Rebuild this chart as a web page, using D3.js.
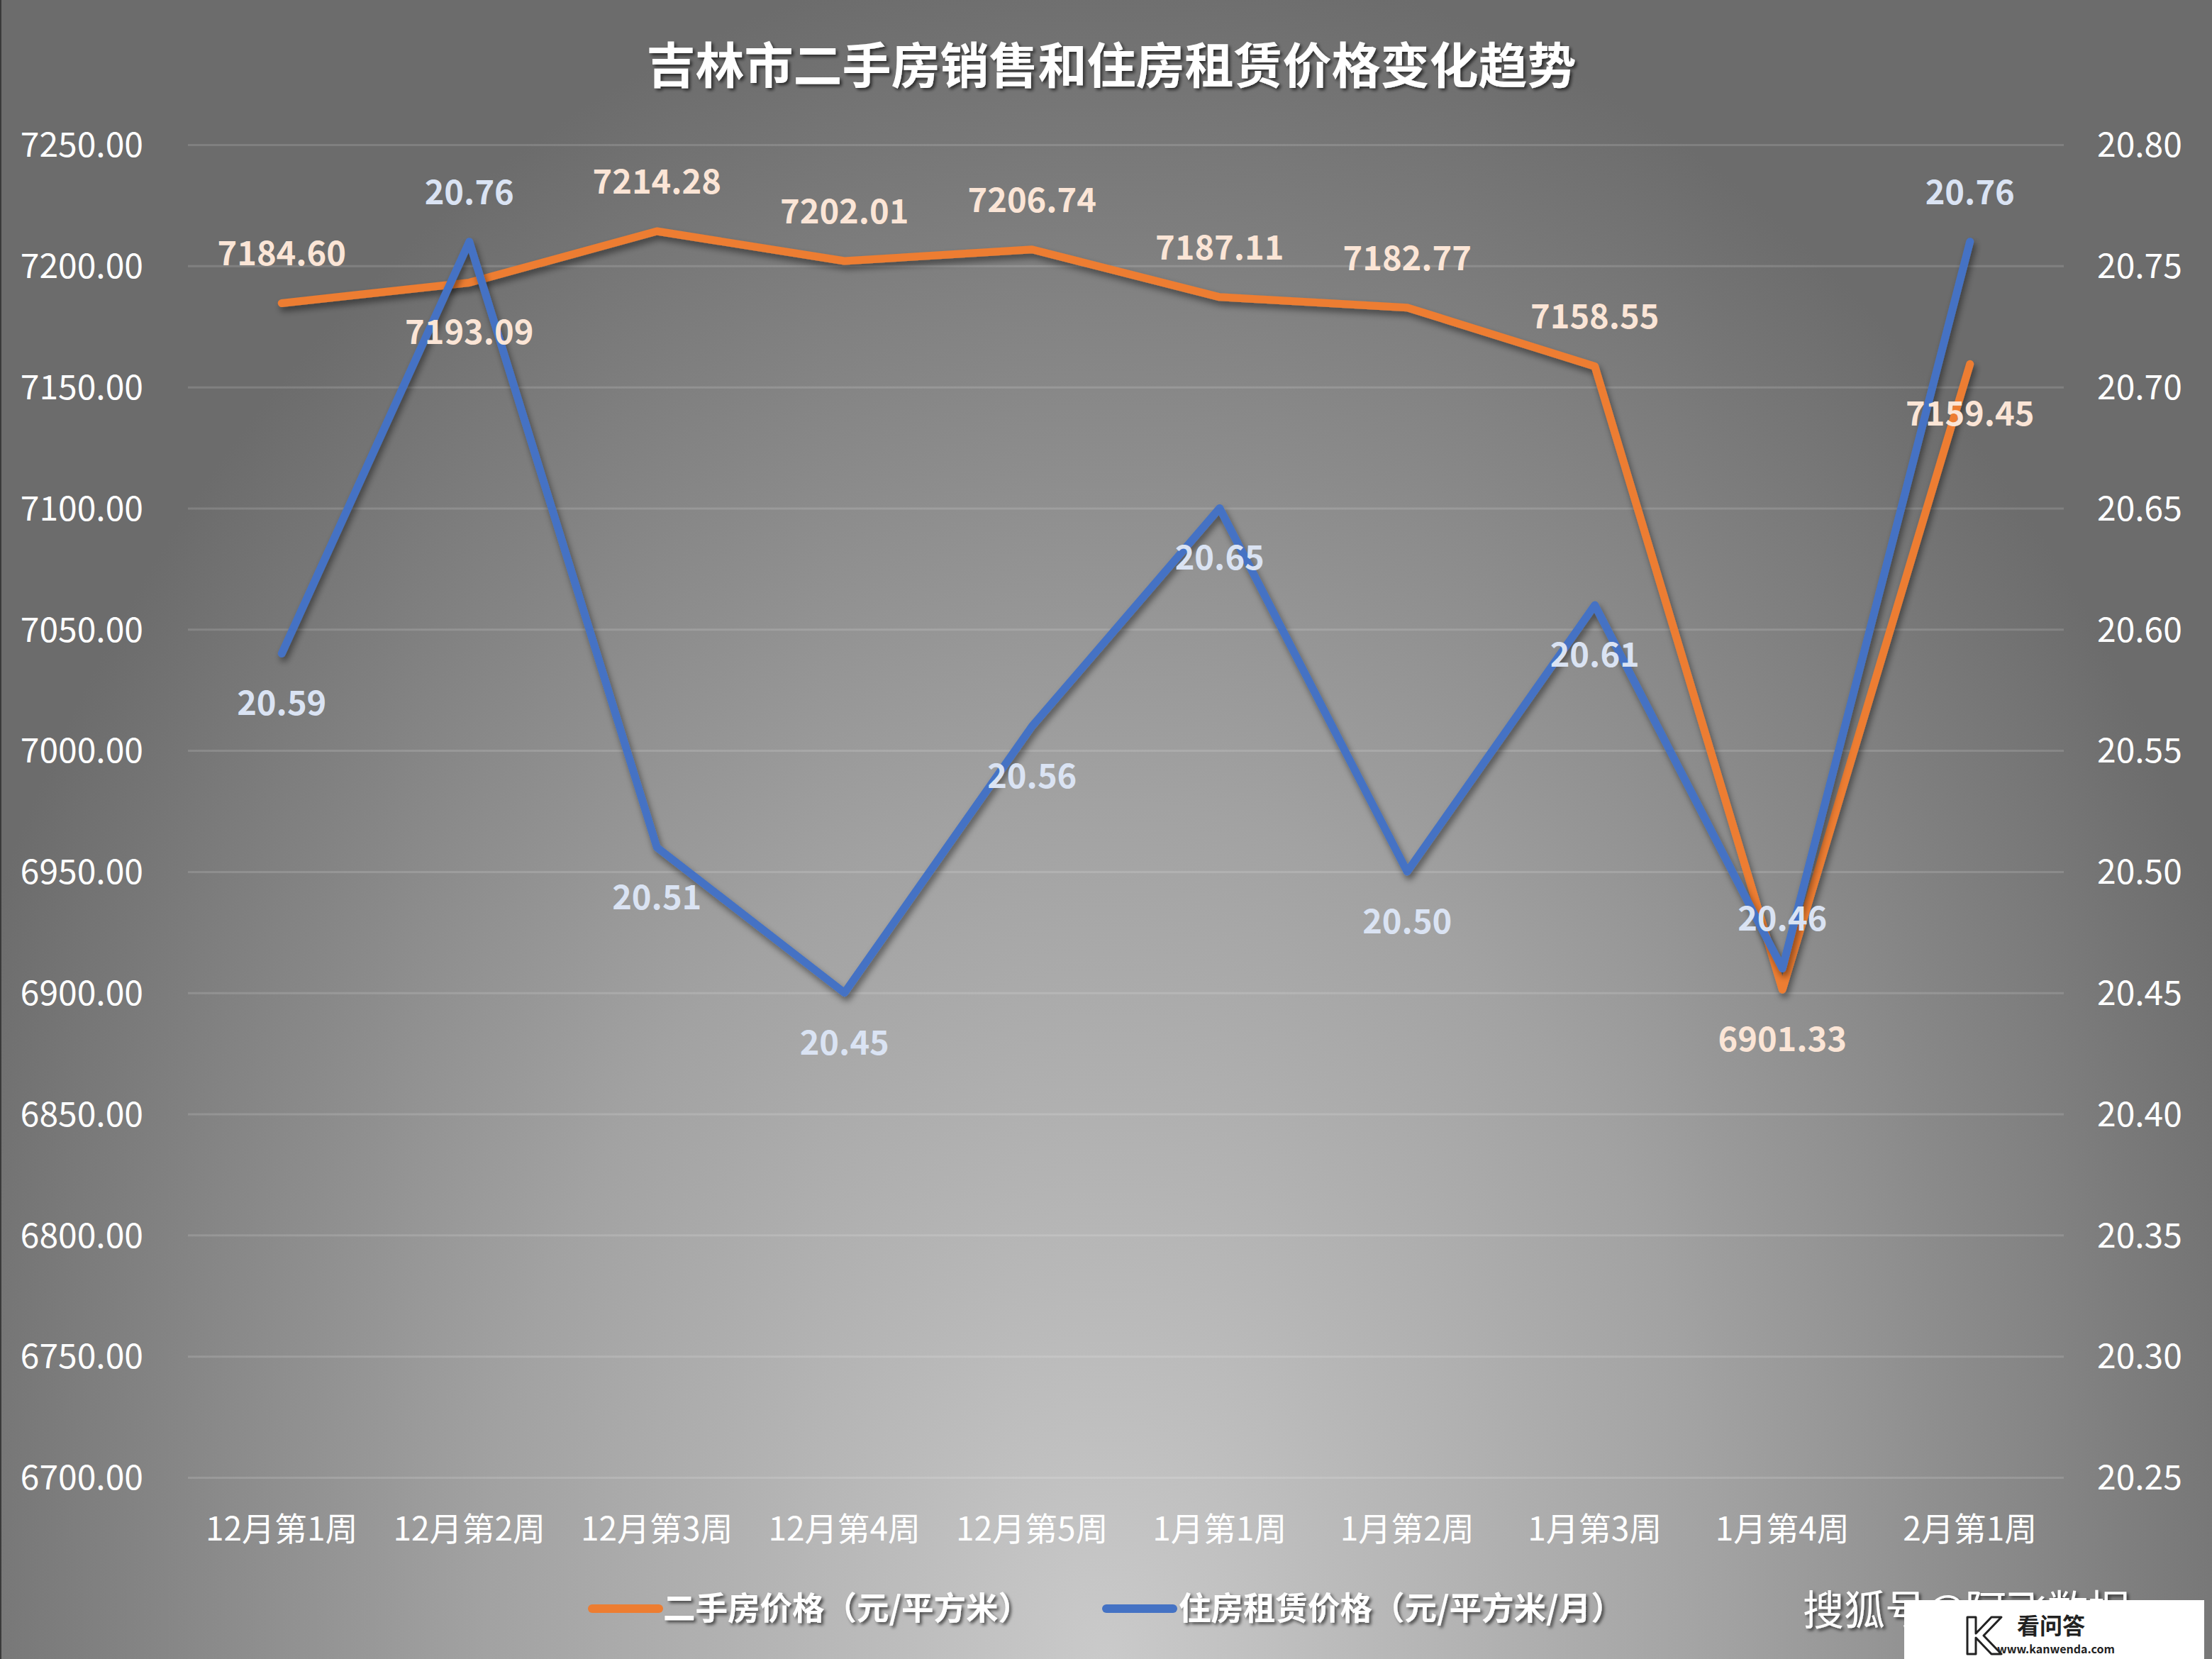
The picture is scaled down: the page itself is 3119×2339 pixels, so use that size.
<!DOCTYPE html>
<html>
<head>
<meta charset="utf-8">
<script src="https://cdn.jsdelivr.net/npm/d3@7/dist/d3.min.js"></script>
<style>
  html, body { margin: 0; padding: 0; background: #888; }
  svg { display: block; }
  text { font-family: "Noto Sans CJK SC", "Noto Sans", sans-serif; }
</style>
</head>
<body>
<svg id="chart" width="3119" height="2339"></svg>
<script>
// ---------------- data ----------------
const title = "吉林市二手房销售和住房租赁价格变化趋势";
const categories = ["12月第1周","12月第2周","12月第3周","12月第4周","12月第5周","1月第1周","1月第2周","1月第3周","1月第4周","2月第1周"];
const salePrice = [7184.60, 7193.09, 7214.28, 7202.01, 7206.74, 7187.11, 7182.77, 7158.55, 6901.33, 7159.45];
const rentPrice = [20.59, 20.76, 20.51, 20.45, 20.56, 20.65, 20.50, 20.61, 20.46, 20.76];
const leftTicks = [6700, 6750, 6800, 6850, 6900, 6950, 7000, 7050, 7100, 7150, 7200, 7250];
const rightTicks = [20.25, 20.30, 20.35, 20.40, 20.45, 20.50, 20.55, 20.60, 20.65, 20.70, 20.75, 20.80];
const seriesNames = ["二手房价格（元/平方米）", "住房租赁价格（元/平方米/月）"];
const watermark = "搜狐号@阿飞数据";

// ---------------- layout ----------------
const W = 3119, H = 2339;
const plot = { left: 265, right: 2910, top: 204, bottom: 2083 };
const orange = "#ED7D31", blue = "#4472C4";
const saleLabelSide = [-1, 1, -1, -1, -1, -1, -1, -1, 1, 1];
const rentLabelSide = [1, -1, 1, 1, 1, 1, 1, 1, -1, -1];

const svg = d3.select("#chart");
const defs = svg.append("defs");

const rg = defs.append("radialGradient")
  .attr("id", "bg").attr("gradientUnits", "userSpaceOnUse")
  .attr("cx", 1560).attr("cy", 2339).attr("r", 1750)
  .attr("gradientTransform", "translate(1560,2339) scale(1,1.38) translate(-1560,-2339)");
rg.append("stop").attr("offset", "0").attr("stop-color", "#cacaca");
rg.append("stop").attr("offset", "0.5").attr("stop-color", "#a2a2a2");
rg.append("stop").attr("offset", "1").attr("stop-color", "#6c6c6c");

const sh = defs.append("filter").attr("id", "lineShadow")
  .attr("x", "-10%").attr("y", "-10%").attr("width", "120%").attr("height", "120%");
sh.append("feDropShadow").attr("dx", 3).attr("dy", 6).attr("stdDeviation", 5)
  .attr("flood-color", "#000").attr("flood-opacity", 0.45);

const tsh = defs.append("filter").attr("id", "textShadow")
  .attr("x", "-10%").attr("y", "-30%").attr("width", "120%").attr("height", "160%");
tsh.append("feDropShadow").attr("dx", 3).attr("dy", 3).attr("stdDeviation", 2)
  .attr("flood-color", "#000").attr("flood-opacity", 0.6);

const clip = defs.append("clipPath").attr("id", "wmClip");
clip.append("rect").attr("x", 2400).attr("y", 2150).attr("width", 285).attr("height", 189);
clip.append("rect").attr("x", 2400).attr("y", 2150).attr("width", 719).attr("height", 106);

svg.append("rect").attr("width", W).attr("height", H).attr("fill", "url(#bg)");
svg.append("rect").attr("x", 0).attr("y", 0).attr("width", 2).attr("height", H).attr("fill", "#3a3a3a");

// ---------------- scales ----------------
const x = d3.scaleBand().domain(categories).range([plot.left, plot.right]);
const xc = c => x(c) + x.bandwidth() / 2;
const yL = d3.scaleLinear().domain([6700, 7250]).range([plot.bottom, plot.top]);
const yR = d3.scaleLinear().domain([20.25, 20.80]).range([plot.bottom, plot.top]);

// gridlines + left axis
const gL = svg.append("g").attr("transform", `translate(${plot.left},0)`)
  .call(d3.axisLeft(yL).tickValues(leftTicks).tickFormat(d3.format(".2f"))
    .tickSize(-(plot.right - plot.left)).tickPadding(63));
gL.select(".domain").remove();
gL.selectAll(".tick line").attr("stroke", "rgba(255,255,255,0.14)").attr("stroke-width", 3);
gL.selectAll(".tick text").attr("fill", "#fff").attr("font-size", 48)
  .attr("font-family", "'Noto Sans CJK SC', sans-serif").attr("dy", "0.35em");

// right axis
const gR = svg.append("g").attr("transform", `translate(${plot.right},0)`)
  .call(d3.axisRight(yR).tickValues(rightTicks).tickFormat(d3.format(".2f"))
    .tickSize(0).tickPadding(47));
gR.select(".domain").remove();
gR.selectAll(".tick text").attr("fill", "#fff").attr("font-size", 48)
  .attr("font-family", "'Noto Sans CJK SC', sans-serif").attr("dy", "0.35em");

// x axis labels
const gX = svg.append("g").attr("transform", `translate(0,${plot.bottom})`)
  .call(d3.axisBottom(x).tickSize(0).tickPadding(56));
gX.select(".domain").remove();
gX.selectAll(".tick text").attr("fill", "#fff").attr("font-size", 46)
  .attr("font-family", "'Noto Sans CJK SC', sans-serif");

// ---------------- lines ----------------
const lineSale = d3.line().x((d, i) => xc(categories[i])).y(d => yL(d));
const lineRent = d3.line().x((d, i) => xc(categories[i])).y(d => yR(d));

svg.append("path").datum(salePrice).attr("d", lineSale)
  .attr("fill", "none").attr("stroke", orange).attr("stroke-width", 11)
  .attr("stroke-linecap", "round").attr("stroke-linejoin", "round")
  .attr("filter", "url(#lineShadow)");
svg.append("path").datum(rentPrice).attr("d", lineRent)
  .attr("fill", "none").attr("stroke", blue).attr("stroke-width", 11)
  .attr("stroke-linecap", "round").attr("stroke-linejoin", "round")
  .attr("filter", "url(#lineShadow)");

// ---------------- data labels ----------------
svg.append("g").selectAll("text").data(salePrice).join("text")
  .attr("x", (d, i) => xc(categories[i]))
  .attr("y", (d, i) => yL(d) + saleLabelSide[i] * 70)
  .attr("dy", "0.36em").attr("text-anchor", "middle")
  .attr("font-size", 47).attr("font-weight", "bold").attr("fill", "#FBE5D6")
  .text(d => d.toFixed(2));
svg.append("g").selectAll("text").data(rentPrice).join("text")
  .attr("x", (d, i) => xc(categories[i]))
  .attr("y", (d, i) => yR(d) + rentLabelSide[i] * 70)
  .attr("dy", "0.36em").attr("text-anchor", "middle")
  .attr("font-size", 47).attr("font-weight", "bold").attr("fill", "#DAE3F3")
  .text(d => d.toFixed(2));

// ---------------- title ----------------
svg.append("text").attr("x", 1567).attr("y", 93).attr("dy", "0.36em")
  .attr("text-anchor", "middle").attr("font-size", 69).attr("font-weight", "bold")
  .attr("fill", "#fff").attr("filter", "url(#textShadow)").text(title);

// ---------------- legend ----------------
const legend = svg.append("g");
[[orange, 835, 929, 935], [blue, 1560, 1654, 1662]].forEach((s, i) => {
  legend.append("line").attr("x1", s[1]).attr("x2", s[2]).attr("y1", 2268).attr("y2", 2268)
    .attr("stroke", s[0]).attr("stroke-width", 12).attr("stroke-linecap", "round");
  legend.append("text").attr("x", s[3]).attr("y", 2268).attr("dy", "0.36em")
    .attr("font-size", 45.5).attr("font-weight", "bold").attr("fill", "#fff")
    .attr("filter", "url(#textShadow)").text(seriesNames[i]);
});

// ---------------- watermark ----------------
svg.append("g").attr("clip-path", "url(#wmClip)")
  .append("text").attr("x", 2542).attr("y", 2270).attr("dy", "0.36em")
  .attr("font-size", 58).attr("fill", "#fff").attr("filter", "url(#textShadow)")
  .text(watermark);
const wm = svg.append("g");
wm.append("rect").attr("x", 2685).attr("y", 2256).attr("width", 423).attr("height", 83).attr("fill", "#fff");
wm.append("path")
  .attr("d", "M2774,2280 L2786,2280 L2786,2303 L2808,2280 L2822,2280 L2797,2306 L2822,2332 L2808,2332 L2786,2309 L2786,2332 L2774,2332 Z")
  .attr("fill", "#fff").attr("stroke", "#222").attr("stroke-width", 3).attr("stroke-linejoin", "round");
wm.append("text").attr("x", 2844).attr("y", 2292).attr("dy", "0.36em")
  .attr("font-size", 32).attr("font-weight", "bold").attr("fill", "#222").text("看问答");
wm.append("text").attr("x", 2816).attr("y", 2325).attr("dy", "0.36em")
  .attr("font-size", 16).attr("font-weight", "bold").attr("fill", "#222").text("www.kanwenda.com");
</script>
</body>
</html>
